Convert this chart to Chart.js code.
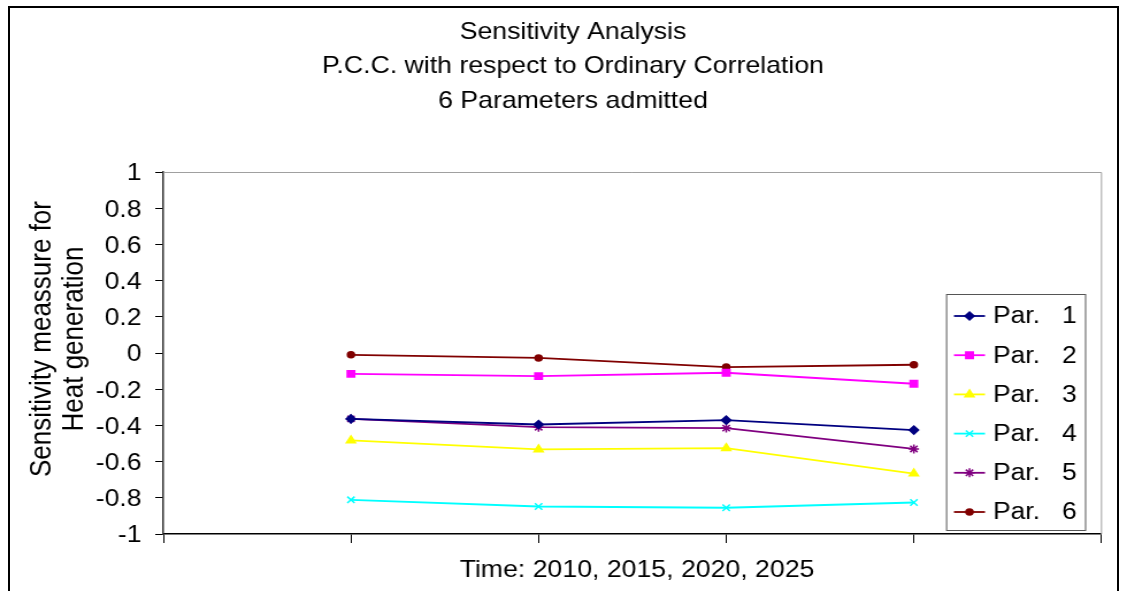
<!DOCTYPE html>
<html>
<head>
<meta charset="utf-8">
<title>Sensitivity Analysis</title>
<script src="https://cdn.jsdelivr.net/npm/chart.js@4.4.1/dist/chart.umd.min.js"></script>
<style>
  html, body { margin: 0; padding: 0; background: #fff; }
  #wrap { position: relative; width: 1127px; height: 591px; overflow: hidden; }
  #chart { position: absolute; left: 0; top: 0; }
  #frame { position: absolute; left: 8px; top: 6px; width: 1107px; height: 640px; border: 2px solid #000; pointer-events: none; }
</style>
</head>
<body>
<div id="wrap">
  <canvas id="chart" width="980" height="591" style="width:1127px;height:591px"></canvas>
  <div id="frame"></div>
</div>
<script>
// ---- data ----
const titleLines = ['Sensitivity Analysis', 'P.C.C. with respect to Ordinary Correlation', '6 Parameters admitted'];
const yTitleLines = ['Sensitivity meassure for', 'Heat generation'];
const xTitle = 'Time: 2010, 2015, 2020, 2025';
const timeSlots = [1, 2, 3, 4];          // 2010, 2015, 2020, 2025
const xTicks = [0, 1, 2, 3, 4, 5];
const yTicks = [-1, -0.8, -0.6, -0.4, -0.2, 0, 0.2, 0.4, 0.6, 0.8, 1];
const parLabels = ['Par.   1', 'Par.   2', 'Par.   3', 'Par.   4', 'Par.   5', 'Par.   6'];
const par1 = [-0.364, -0.395, -0.371, -0.426];
const par2 = [-0.115, -0.128, -0.109, -0.170];
const par3 = [-0.483, -0.533, -0.526, -0.666];
const par4 = [-0.811, -0.848, -0.855, -0.826];
const par5 = [-0.364, -0.410, -0.415, -0.530];
const par6 = [-0.010, -0.027, -0.078, -0.065];

// canvas is drawn narrower and stretched to the page width
const SX = 1.15;
const px = x => x / SX;
const FONT = '"Liberation Sans", Arial, Helvetica, sans-serif';
Chart.defaults.font.family = FONT;
Chart.defaults.font.size = 23;
Chart.defaults.color = '#000';

const styles = [
  { color: '#000080', pointStyle: 'rectRot', radius: 4 },
  { color: '#ff00ff', pointStyle: 'rect', radius: 4.5 },
  { color: '#ffff00', pointStyle: 'triangle', radius: 4.5 },
  { color: '#00ffff', pointStyle: 'crossRot', radius: 4.5 },
  { color: '#800080', pointStyle: 'star', radius: 4.5 },
  { color: '#800000', pointStyle: 'circle', radius: 3 }
];

const series = [par1, par2, par3, par4, par5, par6];
const datasets = series.map((vals, i) => ({
  label: parLabels[i],
  data: timeSlots.map((x, j) => ({ x: x, y: vals[j] })),
  borderColor: styles[i].color,
  backgroundColor: styles[i].color,
  pointBackgroundColor: styles[i].color,
  pointBorderColor: styles[i].color,
  pointStyle: styles[i].pointStyle,
  pointRadius: styles[i].radius,
  pointBorderWidth: 1.5,
  borderWidth: 1.8,
  tension: 0
}));

// plot frame (top/right), titles and boxed legend
const decorations = {
  id: 'decorations',
  beforeDatasetsDraw(chart) {
    const { ctx, chartArea: a } = chart;
    ctx.save();
    ctx.strokeStyle = '#a0a0a0';
    ctx.lineWidth = 1;
    ctx.beginPath();
    ctx.moveTo(a.left, a.top + 0.5);
    ctx.lineTo(a.right, a.top + 0.5);
    ctx.lineTo(a.right, a.bottom);
    ctx.stroke();
    ctx.restore();
  },
  afterDraw(chart) {
    const ctx = chart.ctx;
    ctx.save();
    ctx.fillStyle = '#000';
    ctx.font = '23.2px ' + FONT;
    ctx.textAlign = 'center';
    ctx.textBaseline = 'alphabetic';
    titleLines.forEach((t, i) => ctx.fillText(t, px(573), 39 + i * 34.3));
    ctx.fillText(xTitle, px(637), 577);

    // y axis title
    ctx.font = '26px ' + FONT;
    ctx.textBaseline = 'middle';
    yTitleLines.forEach((t, i) => {
      ctx.save();
      ctx.translate(px(42.5 + i * 31.5), 339);
      ctx.rotate(-Math.PI / 2);
      ctx.fillText(t, 0, 0);
      ctx.restore();
    });

    // legend box
    ctx.font = '23px ' + FONT;
    const bx = px(946), by = 294, bw = px(1085) - px(946), bh = 236;
    ctx.fillStyle = '#fff';
    ctx.fillRect(bx, by, bw, bh);
    ctx.strokeStyle = '#555';
    ctx.lineWidth = 1;
    ctx.strokeRect(bx + 0.5, by + 0.5, bw, bh);
    ctx.textAlign = 'left';
    chart.data.datasets.forEach((ds, i) => {
      const y = 316 + i * 39.2;
      ctx.strokeStyle = ds.borderColor;
      ctx.fillStyle = ds.borderColor;
      ctx.lineWidth = 1.8;
      ctx.beginPath();
      ctx.moveTo(px(954), y);
      ctx.lineTo(px(985), y);
      ctx.stroke();
      ctx.lineWidth = ds.pointBorderWidth;
      Chart.helpers.drawPoint(ctx, {
        pointStyle: ds.pointStyle, radius: ds.pointRadius,
        borderWidth: ds.pointBorderWidth, rotation: 0
      }, px(969.5), y);
      ctx.fillStyle = '#000';
      ctx.fillText(ds.label, px(993), y + 1);
    });
    ctx.restore();
  }
};

new Chart(document.getElementById('chart'), {
  type: 'line',
  data: { datasets: datasets },
  plugins: [decorations],
  options: {
    responsive: false,
    animation: false,
    layout: { padding: { top: 172, right: 980 - px(1101.5), left: 0, bottom: 0 } },
    plugins: { legend: { display: false }, title: { display: false }, tooltip: { enabled: false } },
    scales: {
      x: {
        type: 'linear', min: 0, max: 5,
        afterBuildTicks: s => { s.ticks = xTicks.map(v => ({ value: v })); },
        ticks: { display: false },
        grid: { drawOnChartArea: false, drawTicks: true, tickLength: 9, color: '#000', lineWidth: 1 },
        border: { color: '#000', width: 1.5 },
        afterFit: s => { s.height = 591 - 534; }
      },
      y: {
        min: -1, max: 1,
        afterBuildTicks: s => { s.ticks = yTicks.map(v => ({ value: v })); },
        ticks: { padding: 12, labelOffset: 2, callback: v => String(v) },
        grid: { drawOnChartArea: false, drawTicks: true, tickLength: 7, color: '#000', lineWidth: 1 },
        border: { color: '#333', width: 1.5 },
        afterFit: s => { s.width = px(163.3); }
      }
    }
  }
});
</script>
</body>
</html>
